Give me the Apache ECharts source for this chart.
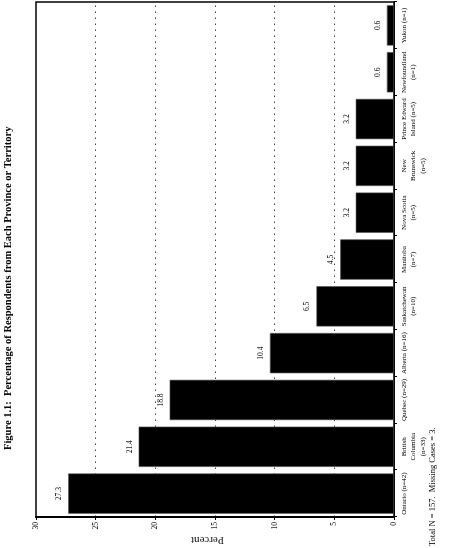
<!DOCTYPE html>
<html>
<head>
<meta charset="utf-8">
<script src="https://cdn.jsdelivr.net/npm/echarts@6/dist/echarts.min.js"></script>
<style>
html,body{margin:0;padding:0;background:#fff;width:450px;height:548px;overflow:hidden;}
#chart{position:absolute;left:0;top:0;width:548px;height:450px;transform-origin:0 0;transform:translate(0,548px) rotate(-90deg);}
</style>
</head>
<body>
<div id="chart"></div>
<script>
var categories = ['Ontario (n=42)', 'British\nColumbia\n(n=33)', 'Quebec (n=29)', 'Alberta (n=16)', 'Saskatchewan\n(n=10)', 'Manitoba\n(n=7)', 'Nova Scotia\n(n=5)', 'New\nBrunswick\n(n=5)', 'Prince Edward\nIsland (n=5)', 'Newfoundland\n(n=1)', 'Yukon (n=1)'];
var percentValues = [27.3, 21.4, 18.8, 10.4, 6.5, 4.5, 3.2, 3.2, 3.2, 0.6, 0.6];
var titleText = 'Figure 1.1:  Percentage of Respondents from Each Province or Territory';
var noteText = 'Total N = 157.  Missing Cases = 3.';
var axisName = 'Percent';

var serif = '"Liberation Serif", "DejaVu Serif", serif';
var chart = echarts.init(document.getElementById('chart'), null, {renderer: 'canvas', width: 548, height: 450});
chart.setOption({
  animation: false,
  backgroundColor: '#fff',
  title: [
    {text: titleText, left: 98, top: 3, padding: 0, textStyle: {fontFamily: serif, fontSize: 10.5, fontWeight: 'bold', color: '#000'}},
    {text: noteText, left: 2, top: 428, padding: 0, textStyle: {fontFamily: serif, fontSize: 8.5, fontWeight: 'normal', color: '#000'}}
  ],
  graphic: [{
    type: 'text', x: 8, y: 207.5, rotation: Math.PI / 2,
    style: {text: axisName, fontFamily: serif, fontSize: 11, fill: '#222', align: 'center', verticalAlign: 'middle'}
  }],
  grid: {left: 31, right: 2, top: 36, bottom: 56, show: true, borderColor: '#000', borderWidth: 1.5, backgroundColor: 'transparent'},
  xAxis: {
    type: 'category',
    data: categories,
    axisLine: {lineStyle: {color: '#000', width: 1}},
    axisTick: {show: true, length: 3, lineStyle: {color: '#000'}},
    axisLabel: {interval: 0, margin: 5, fontFamily: serif, fontSize: 7, lineHeight: 9.5, color: '#000'}
  },
  yAxis: {
    type: 'value',
    min: 0, max: 30, interval: 5,
    axisLine: {show: true, lineStyle: {color: '#000', width: 2}},
    axisTick: {show: true, length: 3, lineStyle: {color: '#000'}},
    axisLabel: {margin: 5, fontFamily: serif, fontSize: 7.5, color: '#000'},
    splitLine: {show: true, lineStyle: {color: '#444', width: 1, type: [1.5, 4.5]}}
  },
  series: [{
    type: 'bar',
    data: percentValues,
    barCategoryGap: '14%',
    itemStyle: {color: '#000', borderColor: '#555', borderWidth: 0.6},
    label: {show: true, position: 'top', distance: 5, fontFamily: serif, fontSize: 7.5, color: '#000', formatter: function (p) { return p.value.toFixed(1); }}
  }]
});
</script>
</body>
</html>
